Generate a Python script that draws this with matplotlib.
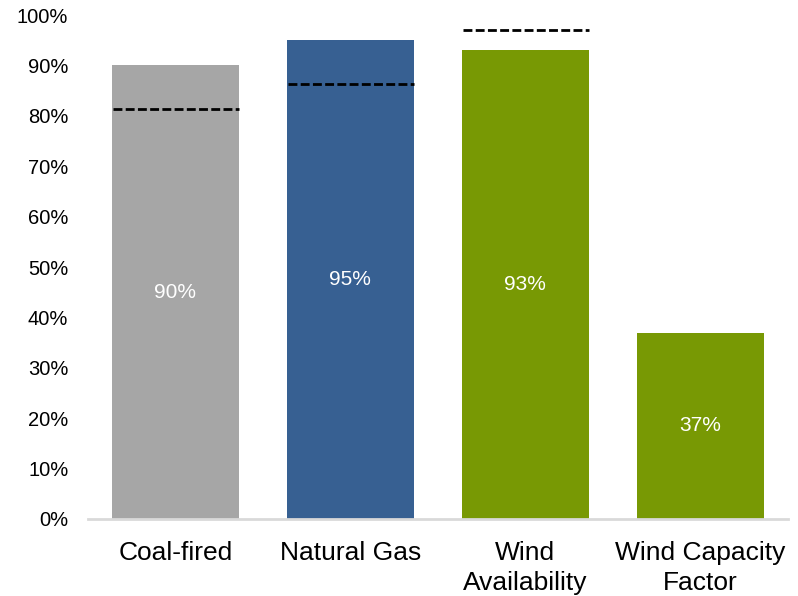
import matplotlib
matplotlib.use("Agg")
import matplotlib.pyplot as plt
from matplotlib.ticker import PercentFormatter

plt.rcParams['font.family'] = ['Liberation Sans', 'DejaVu Sans']

categories = ["Coal-fired", "Natural Gas", "Wind\nAvailability", "Wind Capacity\nFactor"]
values = [90, 95, 93, 37]
benchmarks = [81.3, 86.3, 97.0, None]
bar_colors = ["#A6A6A6", "#376092", "#789904", "#789904"]
yticks = list(range(0, 101, 10))

fig = plt.figure(figsize=(7.98, 5.96), dpi=100)
ax = fig.add_axes([0.110, 0.1292, 0.877, 0.8456])

x = list(range(len(categories)))
width = 0.727
bars = ax.bar(x, values, width=width, color=bar_colors, zorder=2)

for xi, v in zip(x, values):
    ax.text(xi, v / 2, f"{v}%", ha="center", va="center", color="white", fontsize=15)

for xi, b in zip(x, benchmarks):
    if b is None:
        continue
    ax.plot([xi - width / 2 + 0.01, xi + width / 2], [b, b], color="black",
            linestyle=(0, (3.2, 1.2)), linewidth=2.0, zorder=3)

ax.set_xlim(-0.5, 3.5)
ax.set_ylim(0, 100)
ax.set_yticks(yticks)
ax.yaxis.set_major_formatter(PercentFormatter(decimals=0))
ax.set_xticks(x)
ax.set_xticklabels(categories, fontsize=19, linespacing=1.33)
ax.tick_params(axis="y", length=0, pad=14, labelsize=14.5)
ax.tick_params(axis="x", length=0, pad=15.5)

for s in ["top", "right", "left"]:
    ax.spines[s].set_visible(False)
ax.spines["bottom"].set_color("#D9D9D9")
ax.spines["bottom"].set_linewidth(2)

fig.savefig("out.png", dpi=100)
